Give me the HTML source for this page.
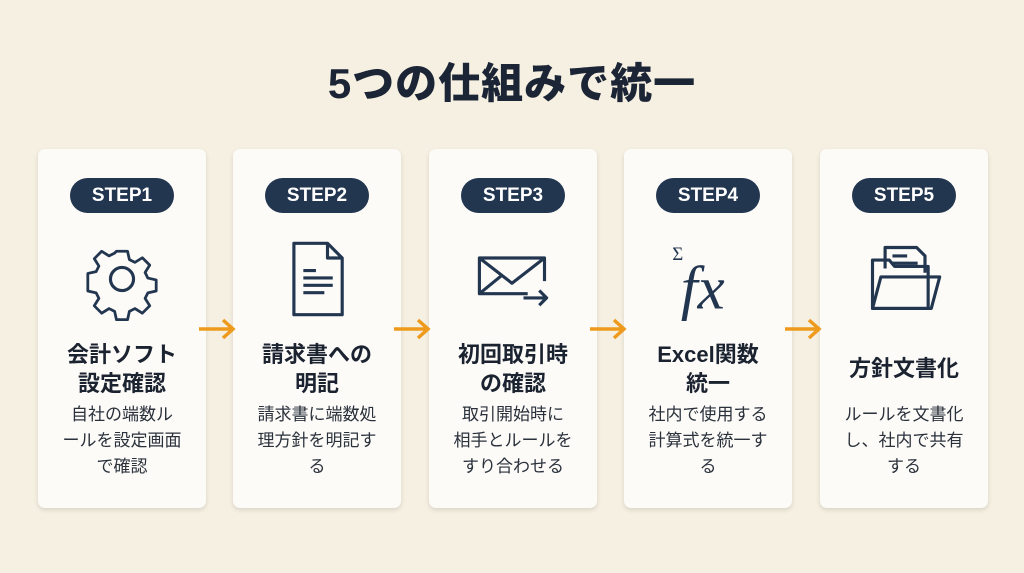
<!DOCTYPE html>
<html><head><meta charset="utf-8"><style>
body{margin:0;width:1024px;height:573px;background:#f6f0e2;font-family:"Liberation Sans","Noto Sans CJK JP",sans-serif;position:relative;overflow:hidden;color:#1e2733}
h1{position:absolute;top:50px;left:0;width:1024px;text-align:center;margin:0;font-size:42px;font-weight:900;color:#1b2535;letter-spacing:1px}
.card{position:absolute;top:149px;width:168px;height:359px;background:#fcfbf8;border-radius:7px;box-shadow:0 2px 5px rgba(0,0,0,.12)}
.pill{position:absolute;left:32px;top:29px;width:104px;height:35px;border-radius:18px;background:#233650;color:#fff;font-weight:bold;font-size:19px;text-align:center;line-height:35px}
.icon{position:absolute;left:42px;top:88px;width:84px;height:84px}
.t{position:absolute;top:191px;left:0;width:168px;text-align:center;font-weight:bold;font-size:22px;line-height:29px;color:#1b2230}
.d{position:absolute;top:253px;left:4px;width:160px;text-align:center;font-size:17px;line-height:26px;color:#2a313b}
.arr{position:absolute;top:318px;width:40px;height:22px}
</style></head><body>
<h1>5つの仕組みで統一</h1>

<div class="card" style="left:38px"><div class="pill">STEP1</div>
<svg class="icon" viewBox="0 0 80 80" fill="none" stroke="#233650" stroke-width="3" stroke-linejoin="round">
<path d="M34 10h12l2 9 6 3 8-5 8 8-5 8 3 6 9 2v12l-9 2-3 6 5 8-8 8-8-5-6 3-2 9H34l-2-9-6-3-8 5-8-8 5-8-3-6-9-2V34l9-2 3-6-5-8 8-8 8 5 6-3z" transform="translate(40 40) scale(.88) translate(-40 -40)"/>
<circle cx="40" cy="40" r="11"/></svg>
<div class="t">会計ソフト<br>設定確認</div>
<div class="d">自社の端数ル<br>ールを設定画面<br>で確認</div></div>

<div class="card" style="left:233px"><div class="pill">STEP2</div>
<svg class="icon" viewBox="0 0 80 80" fill="none" stroke="#233650" stroke-width="3" stroke-linejoin="round">
<path d="M18 6h32l14 14v54H18z M50 6v14h14"/><path d="M27 32h12M27 39h28M27 46h28M27 53h20"/></svg>
<div class="t">請求書への<br>明記</div>
<div class="d">請求書に端数処<br>理方針を明記す<br>る</div></div>

<div class="card" style="left:429px"><div class="pill">STEP3</div>
<svg class="icon" viewBox="0 0 80 80" fill="none" stroke="#233650" stroke-width="3" stroke-linejoin="round">
<path d="M54 54H8V20h62v22"/><path d="M8 20l31 24 31-24M8 54l22-18"/><path d="M50 58h22M65 51l7 7-7 7"/></svg>
<div class="t">初回取引時<br>の確認</div>
<div class="d">取引開始時に<br>相手とルールを<br>すり合わせる</div></div>

<div class="card" style="left:624px"><div class="pill">STEP4</div>
<svg class="icon" viewBox="0 0 80 80"><text x="6" y="22" font-size="18" fill="#233650" font-family="Liberation Serif,serif">Σ</text><text x="14" y="68" font-size="58" font-style="italic" fill="#233650" font-family="Liberation Serif,serif">fx</text></svg>
<div class="t">Excel関数<br>統一</div>
<div class="d">社内で使用する<br>計算式を統一す<br>る</div></div>

<div class="card" style="left:820px"><div class="pill">STEP5</div>
<svg class="icon" viewBox="0 0 80 80" fill="none" stroke="#233650" stroke-width="3" stroke-linejoin="round">
<path d="M10 68V22h16l5 6h32v40z"/><path d="M22 30V10h30l8 8v16"/><path d="M29 18h14M29 25h24"/><path d="M10 68l8-30h56l-8 30z"/></svg>
<div class="t" style="top:205px">方針文書化</div>
<div class="d">ルールを文書化<br>し、社内で共有<br>する</div></div>

<svg class="arr" style="left:197px" viewBox="0 0 40 22" fill="none" stroke="#ee9a1c" stroke-width="3.5"><path d="M2 11h34M26 2l10 9-10 9"/></svg>
<svg class="arr" style="left:392px" viewBox="0 0 40 22" fill="none" stroke="#ee9a1c" stroke-width="3.5"><path d="M2 11h34M26 2l10 9-10 9"/></svg>
<svg class="arr" style="left:588px" viewBox="0 0 40 22" fill="none" stroke="#ee9a1c" stroke-width="3.5"><path d="M2 11h34M26 2l10 9-10 9"/></svg>
<svg class="arr" style="left:783px" viewBox="0 0 40 22" fill="none" stroke="#ee9a1c" stroke-width="3.5"><path d="M2 11h34M26 2l10 9-10 9"/></svg>
</body></html>
